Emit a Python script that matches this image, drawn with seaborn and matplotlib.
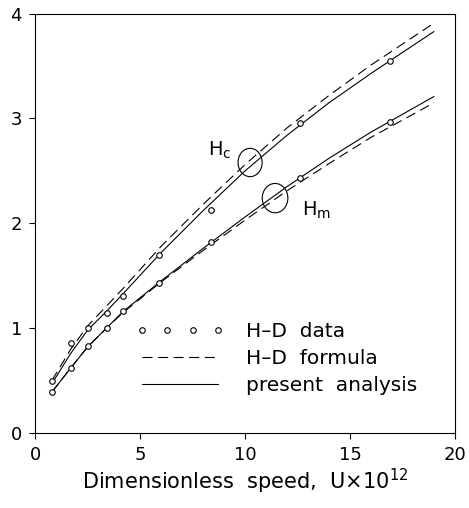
import matplotlib
matplotlib.use("Agg")
import matplotlib.pyplot as plt
from matplotlib.patches import Ellipse
from matplotlib.lines import Line2D
import seaborn as sns
import pandas as pd

# H-D data points
data_u = [0.8, 1.7, 2.5, 3.4, 4.2, 5.9, 8.4, 12.6, 16.9]
hc_data = [0.49, 0.86, 1.00, 1.14, 1.31, 1.70, 2.13, 2.96, 3.55]
hm_data = [0.39, 0.62, 0.83, 1.00, 1.16, 1.43, 1.82, 2.43, 2.97]

# curves
curve_u = [0.8, 1.7, 2.5, 3.4, 4.2, 6, 8, 10, 12, 14, 16, 19]
hc_analysis = [0.47, 0.76, 0.98, 1.16, 1.33, 1.72, 2.12, 2.50, 2.84, 3.15, 3.43, 3.83]
hc_formula = [0.50, 0.80, 1.02, 1.21, 1.38, 1.78, 2.18, 2.56, 2.91, 3.22, 3.51, 3.91]
hm_analysis = [0.39, 0.62, 0.82, 1.00, 1.16, 1.45, 1.76, 2.06, 2.35, 2.62, 2.87, 3.21]
hm_formula = [0.39, 0.62, 0.82, 1.00, 1.15, 1.44, 1.74, 2.03, 2.31, 2.57, 2.82, 3.15]

sns.set_theme(style="ticks")
plt.rcParams['font.family'] = ['DejaVu Sans']
plt.rcParams['text.color'] = 'black'
plt.rcParams['xtick.color'] = 'black'
plt.rcParams['ytick.color'] = 'black'
plt.rcParams['axes.labelcolor'] = 'black'

fig = plt.figure(figsize=(4.69, 5.08), dpi=100)
ax = fig.add_axes([0.075, 0.148, 0.895, 0.825])

curves = pd.DataFrame({"u": curve_u, "hc_a": hc_analysis, "hc_f": hc_formula,
                       "hm_a": hm_analysis, "hm_f": hm_formula})
pts = pd.DataFrame({"u": data_u, "hc": hc_data, "hm": hm_data})

dash = (9, 5)
for col in ["hc_a", "hm_a"]:
    sns.lineplot(data=curves, x="u", y=col, ax=ax, color="black", lw=0.8)
for col in ["hc_f", "hm_f"]:
    sns.lineplot(data=curves, x="u", y=col, ax=ax, color="black", lw=0.8)
    ax.lines[-1].set_dashes(dash)
for col in ["hc", "hm"]:
    ax.plot(pts["u"], pts[col], 'o', ms=4, mfc='white', mec='black', mew=0.8)

# ellipses tying labels to the curve pairs
ax.add_patch(Ellipse((10.24, 2.58), 1.15, 0.27, fill=False, ec='black', lw=0.8))
ax.add_patch(Ellipse((11.43, 2.24), 1.22, 0.28, fill=False, ec='black', lw=0.8))
ax.text(8.25, 2.70, r"H$_\mathrm{c}$", fontsize=14, va='center')
ax.text(12.7, 2.12, r"H$_\mathrm{m}$", fontsize=14, va='center')

ax.set_xlim(0, 20)
ax.set_ylim(0, 4)
ax.set_xticks([0, 5, 10, 15, 20])
ax.set_yticks([0, 1, 2, 3, 4])
ax.tick_params(labelsize=13, length=4.5, width=0.8, pad=5)
for s in ax.spines.values():
    s.set_linewidth(0.8)
    s.set_color('black')
ax.set_xlabel(r"Dimensionless  speed,  U$\times$10$^{12}$", fontsize=15, labelpad=2)
ax.set_ylabel("")

handles = [
    Line2D([], [], ls='none', marker='o', ms=4, mfc='white', mec='black', mew=0.8),
    Line2D([], [], color='black', lw=0.8, dashes=dash),
    Line2D([], [], color='black', lw=0.8),
]
ax.legend(handles, ["H\u2013D  data", "H\u2013D  formula", "present  analysis"],
          loc='lower left', bbox_to_anchor=(0.22, 0.07), frameon=False,
          fontsize=14.5, numpoints=4, handlelength=4.4, handletextpad=1.1,
          labelspacing=0.4, borderaxespad=0)

fig.savefig("out.png", dpi=100)
